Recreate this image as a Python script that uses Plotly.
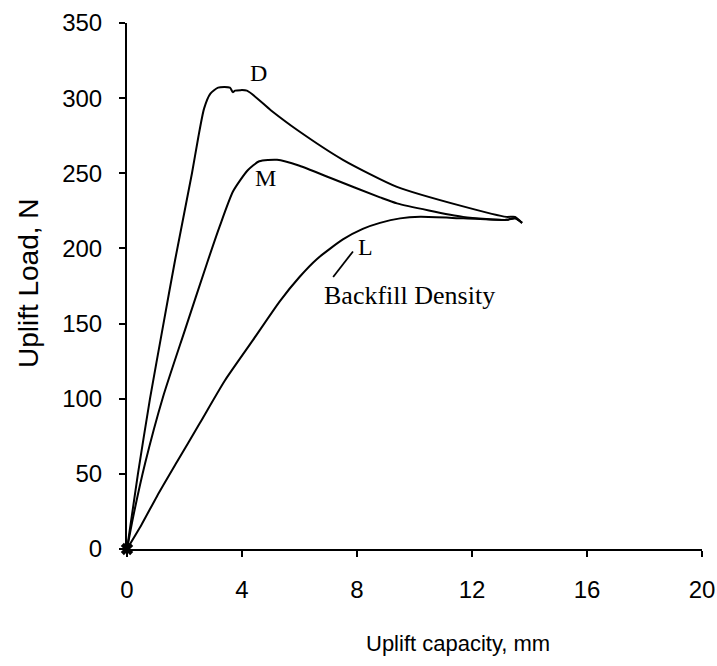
import plotly.graph_objects as go

# Backfill density curves: uplift capacity (mm) vs uplift load (N)
dense_x = [0, 0.38, 0.80, 1.25, 1.67, 2.26, 2.48, 2.68, 2.9, 3.17, 3.58, 3.68, 3.76, 4.17, 5.0, 5.91, 7.51, 9.39, 11.69, 13.2, 13.5, 13.74]
dense_y = [0, 50, 100, 148, 192, 250, 274, 293, 303, 307, 307, 304, 305, 305, 292, 279, 259, 241, 228, 221, 221, 217]

medium_x = [0, 0.21, 0.63, 1.25, 2.02, 2.78, 3.23, 3.69, 4.2, 4.6, 5.22, 6.0, 7.06, 8.8, 9.39, 11.69, 13.2, 13.5, 13.74]
medium_y = [0, 21, 57, 101, 146, 190, 215, 238, 252, 258, 259, 255, 247, 234, 230, 221, 219, 220, 217]

loose_x = [0, 0.5, 1.04, 1.74, 2.54, 3.4, 4.38, 5.32, 6.0, 6.61, 7.51, 8.2, 8.8, 9.5, 10.2, 11.7, 13.2, 13.5, 13.74]
loose_y = [0, 16, 35, 58, 84, 112, 139, 165, 181, 193, 206, 213, 217, 220, 221, 220, 219, 220, 217]

x_ticks = [0, 4, 8, 12, 16, 20]
y_ticks = [0, 50, 100, 150, 200, 250, 300, 350]

curve_labels = ["D", "M", "L"]
label_x = [4.56, 4.80, 8.28]
label_y = [317, 247, 201]

note_text = "Backfill Density"
note_x, note_y = 9.84, 169
leader_x = [7.86, 7.17]
leader_y = [198, 181]

x_title = "Uplift capacity, mm"
y_title = "Uplift Load, N"

fig = go.Figure()
line_style = dict(color="black", width=2, shape="spline", smoothing=0.6)
for xs, ys in [(dense_x, dense_y), (medium_x, medium_y), (loose_x, loose_y)]:
    fig.add_trace(go.Scatter(x=xs, y=ys, mode="lines", line=line_style,
                             showlegend=False, cliponaxis=False, hoverinfo="skip"))

# origin marker
fig.add_trace(go.Scatter(x=[dense_x[0]], y=[dense_y[0]], mode="markers",
                         marker=dict(symbol="x", size=11, color="black"),
                         showlegend=False, cliponaxis=False))

# leader line from L label
fig.add_trace(go.Scatter(x=leader_x, y=leader_y, mode="lines",
                         line=dict(color="black", width=1.8),
                         showlegend=False, cliponaxis=False))

serif = "Liberation Serif, Times New Roman, serif"
for t, lx, ly in zip(curve_labels, label_x, label_y):
    fig.add_annotation(x=lx, y=ly, text=t, showarrow=False, xanchor="center", yanchor="middle",
                       font=dict(family=serif, size=24, color="black"))
fig.add_annotation(x=note_x, y=note_y, text=note_text, showarrow=False,
                   xanchor="center", yanchor="middle",
                   font=dict(family=serif, size=26, color="black"))

sans = "Liberation Sans, Arial, sans-serif"
fig.add_annotation(xref="paper", yref="paper", x=0.576, y=-0.179, text=x_title,
                   xanchor="center", yanchor="middle",
                   showarrow=False, font=dict(family=sans, size=22, color="black"))
fig.add_annotation(xref="paper", yref="paper", x=-0.170, y=0.506, text=y_title,
                   xanchor="center", yanchor="middle",
                   textangle=-90, showarrow=False,
                   font=dict(family=sans, size=28, color="black"))

axis_common = dict(showgrid=False, zeroline=False, showline=True, linecolor="black",
                   linewidth=2, ticks="outside", ticklen=6, tickwidth=2, tickcolor="black",
                   automargin=False,
                   tickfont=dict(family=sans, size=24, color="black"))

fig.update_xaxes(range=[0, 20], tickvals=x_ticks, ticktext=[str(v) for v in x_ticks],
                 ticklabelstandoff=12, **axis_common)
fig.update_yaxes(range=[0, 350], tickvals=y_ticks, ticktext=[str(v) for v in y_ticks],
                 ticklabelstandoff=12, **axis_common)

fig.update_layout(width=717, height=666, margin=dict(l=127, r=15, t=23, b=117),
                  paper_bgcolor="white", plot_bgcolor="white")

fig.write_html("out.html")
